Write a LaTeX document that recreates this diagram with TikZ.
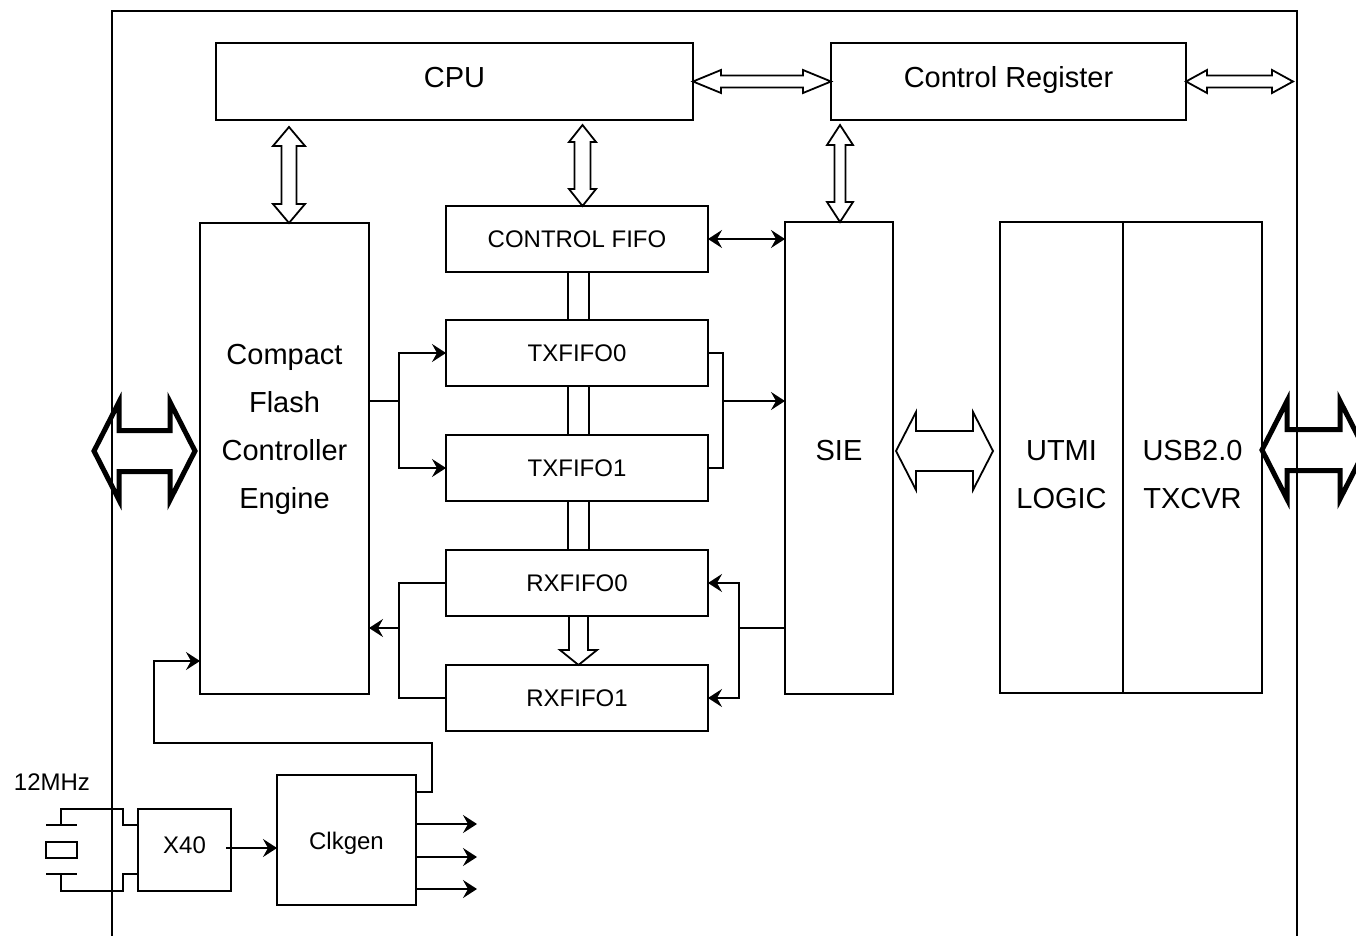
\documentclass[tikz,border=0pt]{standalone}
\usepackage{fontspec}
\setmainfont{Liberation Sans}
\usetikzlibrary{positioning,arrows.meta,calc}

% hollow arrows: style, from, to, shaft half, head half, head length
\newcommand{\flexh}[6]{%
  \draw[#1] let \p1=#2, \p2=#3 in (\x1,\y1) -- (\x1+#6,\y1+#5) -- (\x1+#6,\y1+#4) -- (\x2-#6,\y1+#4) -- (\x2-#6,\y1+#5) -- (\x2,\y1) -- (\x2-#6,\y1-#5) -- (\x2-#6,\y1-#4) -- (\x1+#6,\y1-#4) -- (\x1+#6,\y1-#5) -- cycle;}
\newcommand{\flexv}[6]{%
  \draw[#1] let \p1=#2, \p2=#3 in (\x1,\y1) -- (\x1+#5,\y1-#6) -- (\x1+#4,\y1-#6) -- (\x1+#4,\y2+#6) -- (\x1+#5,\y2+#6) -- (\x1,\y2) -- (\x1-#5,\y2+#6) -- (\x1-#4,\y2+#6) -- (\x1-#4,\y1-#6) -- (\x1-#5,\y1-#6) -- cycle;}

\tikzset{
  blockbox/.style={draw, line width=1.8pt, outer sep=0pt, inner sep=0pt},
  bigtext/.style={font=\fontsize{29}{48}\selectfont},
  smalltext/.style={font=\fontsize{24}{29}\selectfont},
  fifo/.style={blockbox, smalltext, minimum width=262pt, minimum height=66pt},
  wire/.style={line width=1.8pt},
  flex/.style={draw, line width=1.8pt, fill=white, line join=miter},
  thickflex/.style={draw, line width=5pt, line join=miter},
}

\begin{document}
\begin{tikzpicture}[x=1pt, y=-1pt, node distance=49pt, >={Stealth[length=14pt,width=18pt,inset=5pt]}]
  \useasboundingbox (0,0) rectangle (1356,936);
  \clip (0,0) rectangle (1356,936);

  % frame
  \coordinate (frametr) at (1297,11);
  \draw[wire] (112,940) |- (frametr) -- (1297,940);

  \node[blockbox, minimum width=477pt, minimum height=77pt] (cpu) at (454.5,81.5) {};
  \node[bigtext] (cputext) at (454.5,78) {CPU};
  \node[blockbox, minimum width=355pt, minimum height=77pt] (creg) at (1008.5,81.5) {};
  \node[bigtext] (cregtext) at (1008.5,80) {Control Register};

  \node[blockbox, minimum width=169pt, minimum height=471pt] (cfce) at (284.5,458.5) {};
  \node[bigtext, align=center] (cfcetext) at ($(cfce.center)+(0,-29)$) {Compact\\Flash\\Controller\\Engine};

  \node[fifo] (cfifo) at (577,239) {CONTROL FIFO};
  \node[fifo, below=48pt of cfifo] (tx0) {TXFIFO0};
  \node[fifo, below=of tx0] (tx1) {TXFIFO1};
  \node[fifo, below=of tx1] (rx0) {RXFIFO0};
  \node[fifo, below=of rx0] (rx1) {RXFIFO1};

  \node[blockbox, minimum width=108pt, minimum height=472pt] (sie) at (839,458) {};
  \node[bigtext] (sietext) at (839,451) {SIE};

  \node[blockbox, minimum width=123pt, minimum height=471pt] (utmi) at (1061.5,457.5) {};
  \node[blockbox, minimum width=139pt, minimum height=471pt, right=0pt of utmi] (usb) {};
  \node[bigtext, align=center] (utmitext) at ($(utmi.center)+(0,17)$) {UTMI\\LOGIC};
  \node[bigtext, align=center] (usbtext) at ($(usb.center)+(0,17)$) {USB2.0\\TXCVR};

  \node[blockbox, minimum width=93pt, minimum height=82pt] (x40) at (184.5,850) {};
  \node[smalltext] (x40text) at (184.5,845) {X40};
  \node[blockbox, minimum width=139pt, minimum height=130pt] (clk) at (346.5,840) {};
  \node[smalltext] (clktext) at (346.5,843) {Clkgen};
  \node[smalltext] (xtaltext) at (52,782) {12MHz};

  % wide buses
  \flexh{flex}{(cpu.east)}{(creg.west)}{6pt}{11.5pt}{28pt}
  \flexh{flex}{(creg.east)}{($(creg.east -| frametr)+(-4,0)$)}{6pt}{11.5pt}{21pt}
  \flexv{flex}{($(cpu.south -| cfce.north)+(4.5,7)$)}{($(cfce.north)+(4.5,0)$)}{7.5pt}{16pt}{19pt}
  \flexv{flex}{($(cpu.south -| cfifo.north)+(5.5,5)$)}{($(cfifo.north)+(5.5,0)$)}{8pt}{13.5pt}{17pt}
  \flexv{flex}{($(creg.south -| sie.north)+(1,5)$)}{($(sie.north)+(1,0)$)}{5.5pt}{13pt}{20pt}
  \flexh{flex}{($(sie.east)+(3,-7)$)}{($(utmi.west)+(-7,-7)$)}{20pt}{39pt}{20pt}
  \flexh{thickflex}{($(cfce.west)+(-106,-7.5)$)}{($(cfce.west)+(-5,-7.5)$)}{20.5pt}{49pt}{25pt}
  \flexh{thickflex}{($(usb.east)+(0,-7.5)$)}{($(usb.east)+(103,-7.5)$)}{20.5pt}{49pt}{25pt}

  % fifo chain
  \foreach \a/\b in {cfifo/tx0, tx0/tx1, tx1/rx0}
    \foreach \dx in {-9,12}
      \draw[wire] ($(\a.south)+(\dx,0)$) -- ($(\b.north)+(\dx,0)$);
  \draw[wire] let \p1=($(rx0.south)+(1.5,0)$), \p2=($(rx1.north)+(1.5,0)$) in
    (\x1-9.5pt,\y1) -- (\x1-9.5pt,\y2+15pt) -- (\x1-18.5pt,\y2+15pt) -- (\x1,\y2) -- (\x1+18.5pt,\y2+15pt) -- (\x1+9.5pt,\y2+15pt) -- (\x1+9.5pt,\y1);

  \draw[wire, <->] (cfifo.east) -- (cfifo.east -| sie.west);

  % tx path
  \coordinate (txin) at (399,401);
  \coordinate (txout) at (723,401);
  \draw[wire] (cfce.east |- txin) -- (txin);
  \draw[wire, ->] (txin) |- (tx0.west);
  \draw[wire, ->] (txin) |- (tx1.west);
  \draw[wire] (tx0.east) -| (txout);
  \draw[wire] (tx1.east) -| (txout);
  \draw[wire, ->] (txout) -- (txout -| sie.west);

  % rx path
  \coordinate (rxin) at (739,628);
  \coordinate (rxout) at (399,628);
  \draw[wire] (sie.west |- rxin) -- (rxin);
  \draw[wire, ->] (rxin) |- (rx0.east);
  \draw[wire, ->] (rxin) |- (rx1.east);
  \draw[wire] (rx0.west) -| (rxout);
  \draw[wire] (rx1.west) -| (rxout);
  \draw[wire, ->] (rxout) -- (rxout -| cfce.east);

  % clock
  \draw[wire, ->] ($(x40.east)+(-5,-2)$) -- ($(x40.east -| clk.west)+(0,-2)$);
  \foreach \dy [count=\i] in {-16,17,49} {
    \coordinate (clkout\i) at ($(clk.east)+(61,\dy)$);
    \draw[wire, ->] (clk.east |- clkout\i) -- (clkout\i);
  }
  \coordinate (fb) at (432,743);
  \coordinate (fbin) at (154,661);
  \draw[wire, ->] ($(clk.east)+(0,-48)$) -| (fb) -| (fbin) -- (fbin -| cfce.west);

  % crystal
  \draw[wire] (46,825) -- (77,825);
  \draw[wire] (46,874) -- (77,874);
  \draw[wire] (46,842) rectangle (77,858);
  \draw[wire] (61,825) |- (123,809) |- (x40.west |- 0,825);
  \draw[wire] (61,874) |- (123,891) |- (x40.west |- 0,874);
\end{tikzpicture}
\end{document}
